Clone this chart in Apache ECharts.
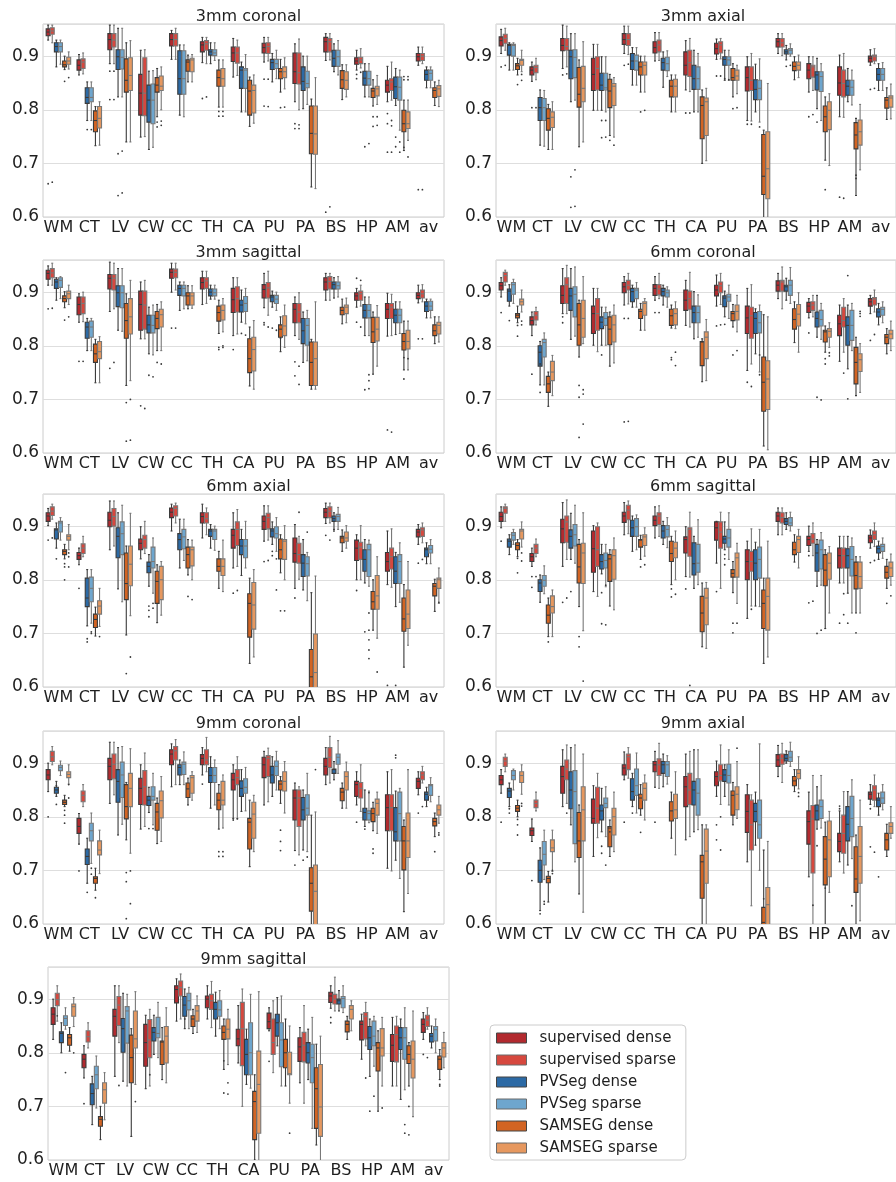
<!DOCTYPE html>
<html><head><meta charset="utf-8">
<script src="https://cdn.jsdelivr.net/npm/echarts@6/dist/echarts.min.js"></script>
<style>html,body{margin:0;padding:0;background:#fff}#c{width:896px;height:1182px}</style>
</head><body><div id="c"></div>
<script>
const categories = ['WM','CT','LV','CW','CC','TH','CA','PU','PA','BS','HP','AM','av'];
const methods = ['supervised dense','supervised sparse','PVSeg dense','PVSeg sparse','SAMSEG dense','SAMSEG sparse'];
const colors = ['#b22a2f','#d6483e','#2c6aa5','#6ea6ce','#d26423','#e6985f'];
const yTicks = [0.6,0.7,0.8,0.9];
const panelTitles = ['3mm coronal','3mm axial','3mm sagittal','6mm coronal','6mm axial','6mm sagittal','9mm coronal','9mm axial','9mm sagittal'];

// each category: 6 boxes [min, q1, median, q3, max] in method order
const cor3 = [
[[0.93,0.938,0.945,0.951,0.958],[0.925,0.941,0.947,0.953,0.958],[0.88,0.908,0.918,0.925,0.93],[0.885,0.908,0.918,0.925,0.93],[0.875,0.88,0.884,0.891,0.9],[0.876,0.885,0.891,0.898,0.908]],
[[0.865,0.874,0.883,0.893,0.903],[0.867,0.877,0.889,0.895,0.906],[0.78,0.812,0.823,0.841,0.852],[0.78,0.815,0.823,0.841,0.852],[0.733,0.759,0.78,0.798,0.806],[0.734,0.766,0.784,0.806,0.815]],
[[0.886,0.912,0.931,0.942,0.958],[0.886,0.917,0.93,0.942,0.958],[0.824,0.875,0.899,0.912,0.952],[0.824,0.876,0.898,0.912,0.952],[0.74,0.833,0.855,0.895,0.925],[0.74,0.836,0.864,0.897,0.929]],
[[0.749,0.79,0.831,0.866,0.911],[0.75,0.789,0.831,0.897,0.912],[0.726,0.777,0.818,0.846,0.872],[0.73,0.774,0.818,0.848,0.873],[0.787,0.833,0.846,0.86,0.877],[0.8,0.836,0.844,0.863,0.88]],
[[0.894,0.919,0.931,0.942,0.948],[0.894,0.919,0.931,0.942,0.952],[0.79,0.829,0.858,0.91,0.921],[0.787,0.829,0.858,0.91,0.921],[0.852,0.872,0.889,0.893,0.902],[0.852,0.871,0.893,0.896,0.903]],
[[0.888,0.908,0.921,0.927,0.935],[0.886,0.911,0.923,0.929,0.935],[0.886,0.902,0.908,0.912,0.925],[0.892,0.901,0.906,0.912,0.925],[0.805,0.844,0.86,0.874,0.893],[0.805,0.844,0.858,0.877,0.893]],
[[0.861,0.89,0.906,0.917,0.933],[0.864,0.887,0.906,0.917,0.93],[0.796,0.84,0.874,0.88,0.889],[0.796,0.84,0.874,0.877,0.903],[0.769,0.79,0.835,0.855,0.861],[0.775,0.794,0.836,0.846,0.865]],
[[0.889,0.906,0.916,0.924,0.935],[0.891,0.905,0.918,0.925,0.935],[0.852,0.875,0.888,0.894,0.905],[0.858,0.877,0.886,0.894,0.911],[0.833,0.858,0.871,0.877,0.894],[0.839,0.86,0.871,0.88,0.897]],
[[0.815,0.849,0.871,0.906,0.923],[0.8,0.848,0.869,0.906,0.932],[0.802,0.836,0.853,0.88,0.9],[0.81,0.841,0.849,0.872,0.9],[0.656,0.718,0.756,0.807,0.82],[0.653,0.717,0.755,0.807,0.86]],
[[0.892,0.908,0.927,0.935,0.942],[0.893,0.908,0.927,0.933,0.942],[0.871,0.881,0.896,0.911,0.923],[0.865,0.881,0.899,0.911,0.929],[0.819,0.84,0.856,0.873,0.884],[0.824,0.838,0.855,0.871,0.884]],
[[0.874,0.885,0.891,0.897,0.911],[0.878,0.886,0.893,0.898,0.914],[0.824,0.846,0.859,0.872,0.886],[0.824,0.846,0.858,0.872,0.886],[0.807,0.823,0.835,0.84,0.856],[0.81,0.826,0.839,0.844,0.864]],
[[0.815,0.833,0.846,0.855,0.881],[0.818,0.836,0.852,0.858,0.889],[0.808,0.821,0.843,0.861,0.877],[0.762,0.818,0.842,0.861,0.874],[0.724,0.759,0.774,0.799,0.818],[0.743,0.765,0.774,0.796,0.818]],
[[0.883,0.891,0.899,0.905,0.917],[0.886,0.892,0.9,0.905,0.917],[0.841,0.855,0.866,0.874,0.88],[0.841,0.855,0.868,0.874,0.88],[0.808,0.823,0.836,0.841,0.852],[0.806,0.825,0.839,0.845,0.855]]
];
const ax3 = [
[[0.905,0.919,0.929,0.936,0.95],[0.911,0.924,0.933,0.941,0.952],[0.874,0.902,0.92,0.922,0.925],[0.874,0.9,0.92,0.922,0.925],[0.865,0.875,0.882,0.886,0.896],[0.871,0.883,0.892,0.894,0.911]],
[[0.853,0.865,0.874,0.88,0.889],[0.856,0.869,0.879,0.883,0.896],[0.734,0.78,0.804,0.823,0.837],[0.732,0.78,0.804,0.821,0.836],[0.726,0.762,0.784,0.802,0.81],[0.726,0.767,0.786,0.796,0.815]],
[[0.877,0.91,0.92,0.933,0.958],[0.88,0.911,0.918,0.933,0.956],[0.815,0.858,0.899,0.911,0.942],[0.818,0.86,0.898,0.912,0.942],[0.731,0.805,0.829,0.879,0.893],[0.74,0.815,0.84,0.881,0.927]],
[[0.799,0.836,0.866,0.896,0.922],[0.799,0.837,0.877,0.899,0.922],[0.799,0.836,0.846,0.868,0.899],[0.796,0.837,0.841,0.868,0.899],[0.752,0.804,0.835,0.857,0.866],[0.749,0.808,0.844,0.849,0.86]],
[[0.905,0.922,0.931,0.942,0.956],[0.903,0.92,0.931,0.942,0.956],[0.846,0.875,0.891,0.905,0.916],[0.846,0.874,0.891,0.902,0.916],[0.833,0.865,0.88,0.889,0.9],[0.833,0.865,0.883,0.889,0.9]],
[[0.891,0.906,0.916,0.927,0.944],[0.892,0.908,0.921,0.93,0.944],[0.842,0.874,0.888,0.896,0.908],[0.862,0.873,0.886,0.898,0.91],[0.796,0.824,0.844,0.855,0.865],[0.796,0.824,0.844,0.857,0.865]],
[[0.837,0.865,0.883,0.908,0.929],[0.834,0.862,0.888,0.911,0.933],[0.796,0.838,0.858,0.883,0.911],[0.796,0.838,0.858,0.88,0.905],[0.7,0.746,0.808,0.824,0.837],[0.705,0.752,0.815,0.822,0.84]],
[[0.894,0.904,0.914,0.924,0.932],[0.895,0.906,0.921,0.927,0.933],[0.855,0.883,0.894,0.899,0.911],[0.855,0.883,0.893,0.899,0.911],[0.824,0.855,0.86,0.877,0.886],[0.83,0.855,0.863,0.874,0.883]],
[[0.78,0.835,0.86,0.88,0.899],[0.779,0.836,0.855,0.88,0.905],[0.796,0.819,0.838,0.856,0.885],[0.777,0.819,0.84,0.855,0.895],[0.57,0.642,0.676,0.754,0.762],[0.57,0.634,0.69,0.759,0.849]],
[[0.905,0.917,0.927,0.933,0.942],[0.901,0.917,0.925,0.933,0.942],[0.893,0.904,0.908,0.912,0.92],[0.9,0.904,0.911,0.914,0.923],[0.856,0.873,0.881,0.889,0.899],[0.86,0.874,0.883,0.889,0.902]],
[[0.833,0.858,0.874,0.886,0.899],[0.836,0.861,0.88,0.883,0.899],[0.802,0.837,0.865,0.871,0.896],[0.78,0.834,0.862,0.871,0.886],[0.706,0.759,0.787,0.807,0.824],[0.696,0.763,0.799,0.815,0.83]],
[[0.787,0.827,0.85,0.88,0.902],[0.786,0.824,0.849,0.874,0.905],[0.815,0.827,0.844,0.855,0.877],[0.809,0.827,0.842,0.855,0.874],[0.64,0.727,0.753,0.776,0.784],[0.688,0.734,0.759,0.781,0.81]],
[[0.883,0.889,0.896,0.9,0.912],[0.886,0.891,0.899,0.902,0.914],[0.836,0.855,0.866,0.877,0.886],[0.836,0.855,0.866,0.877,0.888],[0.782,0.803,0.818,0.823,0.841],[0.783,0.805,0.822,0.826,0.848]]
];
const sag3 = [
[[0.913,0.924,0.935,0.941,0.949],[0.913,0.927,0.936,0.944,0.954],[0.885,0.907,0.919,0.924,0.927],[0.888,0.909,0.922,0.927,0.929],[0.871,0.882,0.888,0.893,0.901],[0.877,0.888,0.897,0.902,0.913]],
[[0.844,0.858,0.877,0.891,0.897],[0.845,0.86,0.879,0.891,0.9],[0.791,0.814,0.835,0.844,0.851],[0.791,0.816,0.835,0.846,0.851],[0.731,0.769,0.785,0.803,0.812],[0.731,0.776,0.789,0.808,0.817]],
[[0.864,0.906,0.926,0.933,0.956],[0.869,0.904,0.926,0.933,0.954],[0.829,0.873,0.899,0.912,0.944],[0.827,0.871,0.899,0.912,0.944],[0.726,0.814,0.847,0.879,0.897],[0.735,0.822,0.854,0.888,0.922]],
[[0.813,0.829,0.877,0.902,0.919],[0.813,0.831,0.876,0.902,0.922],[0.785,0.824,0.839,0.857,0.872],[0.783,0.824,0.838,0.857,0.876],[0.791,0.832,0.851,0.864,0.877],[0.791,0.835,0.858,0.868,0.882]],
[[0.9,0.926,0.937,0.943,0.954],[0.904,0.927,0.937,0.943,0.954],[0.866,0.894,0.907,0.913,0.919],[0.869,0.893,0.907,0.913,0.919],[0.869,0.876,0.893,0.899,0.912],[0.87,0.876,0.893,0.899,0.912]],
[[0.877,0.906,0.918,0.927,0.939],[0.879,0.907,0.921,0.927,0.939],[0.887,0.893,0.9,0.906,0.913],[0.887,0.893,0.899,0.906,0.913],[0.823,0.846,0.862,0.874,0.885],[0.826,0.848,0.866,0.876,0.888]],
[[0.819,0.862,0.886,0.907,0.927],[0.822,0.863,0.888,0.91,0.927],[0.844,0.863,0.876,0.885,0.904],[0.841,0.864,0.879,0.892,0.907],[0.725,0.75,0.776,0.813,0.835],[0.719,0.753,0.793,0.816,0.847]],
[[0.871,0.889,0.905,0.914,0.935],[0.857,0.889,0.908,0.918,0.939],[0.872,0.882,0.891,0.894,0.902],[0.866,0.879,0.887,0.894,0.9],[0.789,0.816,0.831,0.839,0.854],[0.797,0.819,0.837,0.856,0.876]],
[[0.819,0.843,0.868,0.879,0.891],[0.812,0.843,0.863,0.879,0.899],[0.769,0.804,0.828,0.851,0.863],[0.772,0.801,0.838,0.851,0.866],[0.719,0.726,0.769,0.807,0.812],[0.719,0.726,0.776,0.807,0.882]],
[[0.885,0.904,0.919,0.927,0.935],[0.885,0.906,0.92,0.929,0.935],[0.889,0.906,0.914,0.919,0.927],[0.891,0.906,0.912,0.919,0.929],[0.841,0.858,0.866,0.872,0.887],[0.843,0.86,0.872,0.876,0.889]],
[[0.872,0.885,0.893,0.899,0.907],[0.874,0.885,0.897,0.902,0.913],[0.819,0.852,0.866,0.877,0.891],[0.819,0.852,0.866,0.877,0.891],[0.747,0.806,0.826,0.853,0.863],[0.762,0.809,0.831,0.853,0.875]],
[[0.818,0.851,0.868,0.879,0.898],[0.819,0.851,0.872,0.879,0.896],[0.821,0.843,0.857,0.868,0.882],[0.823,0.843,0.857,0.868,0.882],[0.755,0.792,0.808,0.823,0.846],[0.755,0.794,0.808,0.829,0.846]],
[[0.88,0.888,0.894,0.899,0.913],[0.882,0.889,0.897,0.904,0.914],[0.852,0.864,0.874,0.882,0.887],[0.852,0.866,0.874,0.883,0.887],[0.804,0.819,0.828,0.839,0.854],[0.807,0.822,0.838,0.844,0.854]]
];
const cor6 = [
[[0.891,0.904,0.912,0.918,0.927],[0.913,0.919,0.931,0.937,0.941],[0.874,0.883,0.902,0.906,0.914],[0.879,0.896,0.914,0.918,0.924],[0.843,0.852,0.857,0.86,0.874],[0.863,0.876,0.882,0.887,0.904]],
[[0.819,0.839,0.847,0.854,0.863],[0.839,0.848,0.857,0.864,0.872],[0.727,0.762,0.788,0.8,0.808],[0.727,0.779,0.806,0.812,0.824],[0.687,0.713,0.729,0.743,0.751],[0.707,0.735,0.751,0.771,0.782]],
[[0.86,0.879,0.894,0.912,0.944],[0.86,0.879,0.914,0.927,0.95],[0.812,0.866,0.893,0.907,0.944],[0.818,0.854,0.896,0.91,0.947],[0.779,0.801,0.839,0.879,0.885],[0.804,0.816,0.851,0.885,0.929]],
[[0.801,0.823,0.86,0.874,0.907],[0.789,0.829,0.86,0.888,0.907],[0.801,0.832,0.844,0.854,0.872],[0.801,0.838,0.851,0.862,0.872],[0.762,0.802,0.831,0.854,0.863],[0.768,0.807,0.839,0.857,0.876]],
[[0.876,0.899,0.91,0.918,0.929],[0.878,0.904,0.913,0.922,0.935],[0.872,0.882,0.901,0.907,0.913],[0.872,0.888,0.904,0.907,0.918],[0.829,0.851,0.864,0.868,0.879],[0.829,0.857,0.879,0.882,0.888]],
[[0.885,0.894,0.907,0.914,0.929],[0.888,0.895,0.906,0.914,0.935],[0.876,0.893,0.901,0.907,0.913],[0.872,0.891,0.899,0.904,0.91],[0.833,0.838,0.856,0.868,0.876],[0.832,0.839,0.86,0.869,0.882]],
[[0.838,0.866,0.885,0.904,0.922],[0.835,0.868,0.888,0.902,0.937],[0.813,0.843,0.862,0.874,0.901],[0.816,0.843,0.862,0.874,0.895],[0.733,0.763,0.807,0.808,0.813],[0.735,0.776,0.816,0.826,0.849]],
[[0.874,0.893,0.904,0.913,0.932],[0.877,0.899,0.912,0.919,0.935],[0.854,0.873,0.889,0.893,0.902],[0.851,0.883,0.891,0.896,0.913],[0.835,0.847,0.86,0.864,0.877],[0.826,0.848,0.864,0.876,0.894]],
[[0.754,0.823,0.852,0.874,0.907],[0.766,0.814,0.856,0.872,0.914],[0.785,0.823,0.851,0.862,0.869],[0.751,0.824,0.843,0.864,0.876],[0.613,0.678,0.732,0.779,0.858],[0.606,0.681,0.738,0.772,0.854]],
[[0.888,0.902,0.913,0.921,0.935],[0.869,0.902,0.919,0.922,0.947],[0.885,0.902,0.91,0.913,0.926],[0.879,0.894,0.913,0.922,0.946],[0.806,0.831,0.849,0.869,0.882],[0.788,0.837,0.859,0.877,0.899]],
[[0.852,0.862,0.874,0.881,0.888],[0.854,0.866,0.876,0.882,0.894],[0.816,0.835,0.851,0.863,0.894],[0.812,0.837,0.849,0.866,0.879],[0.788,0.807,0.826,0.829,0.837],[0.797,0.816,0.827,0.832,0.843]],
[[0.771,0.819,0.841,0.857,0.876],[0.788,0.835,0.847,0.872,0.888],[0.757,0.801,0.838,0.854,0.876],[0.791,0.81,0.838,0.866,0.879],[0.707,0.729,0.769,0.797,0.816],[0.713,0.752,0.774,0.785,0.804]],
[[0.86,0.874,0.882,0.888,0.894],[0.863,0.876,0.887,0.89,0.904],[0.839,0.854,0.863,0.869,0.879],[0.843,0.857,0.868,0.872,0.882],[0.785,0.804,0.816,0.821,0.832],[0.791,0.813,0.822,0.829,0.846]]
];
const ax6 = [
[[0.901,0.909,0.919,0.925,0.933],[0.913,0.92,0.928,0.936,0.941],[0.859,0.876,0.893,0.895,0.906],[0.874,0.889,0.906,0.909,0.916],[0.839,0.847,0.853,0.856,0.866],[0.856,0.874,0.881,0.884,0.903]],
[[0.828,0.838,0.845,0.851,0.859],[0.843,0.849,0.859,0.867,0.881],[0.714,0.75,0.766,0.803,0.819],[0.719,0.759,0.784,0.805,0.819],[0.695,0.711,0.726,0.736,0.749],[0.713,0.736,0.751,0.761,0.784]],
[[0.856,0.899,0.911,0.926,0.947],[0.863,0.9,0.918,0.933,0.947],[0.783,0.841,0.881,0.897,0.925],[0.759,0.847,0.886,0.908,0.939],[0.697,0.763,0.793,0.85,0.863],[0.733,0.789,0.829,0.863,0.924]],
[[0.839,0.856,0.868,0.876,0.899],[0.849,0.859,0.875,0.883,0.909],[0.788,0.813,0.825,0.833,0.847],[0.775,0.822,0.834,0.861,0.878],[0.72,0.756,0.797,0.816,0.828],[0.734,0.763,0.8,0.825,0.834]],
[[0.891,0.916,0.926,0.934,0.941],[0.906,0.919,0.933,0.938,0.943],[0.822,0.856,0.875,0.886,0.913],[0.836,0.858,0.88,0.894,0.913],[0.809,0.822,0.847,0.861,0.875],[0.8,0.826,0.856,0.861,0.874]],
[[0.878,0.906,0.918,0.925,0.941],[0.884,0.906,0.914,0.925,0.934],[0.859,0.881,0.891,0.894,0.903],[0.855,0.875,0.891,0.894,0.9],[0.784,0.816,0.825,0.839,0.853],[0.778,0.808,0.825,0.839,0.874]],
[[0.822,0.859,0.883,0.894,0.925],[0.825,0.864,0.894,0.908,0.931],[0.808,0.847,0.863,0.875,0.894],[0.822,0.841,0.863,0.875,0.909],[0.644,0.693,0.756,0.774,0.803],[0.656,0.708,0.753,0.795,0.819]],
[[0.872,0.894,0.909,0.919,0.938],[0.874,0.895,0.916,0.924,0.938],[0.866,0.88,0.891,0.895,0.908],[0.853,0.878,0.886,0.899,0.916],[0.813,0.839,0.856,0.876,0.884],[0.8,0.838,0.872,0.875,0.901]],
[[0.784,0.833,0.849,0.878,0.903],[0.801,0.831,0.847,0.868,0.881],[0.781,0.806,0.831,0.847,0.875],[0.761,0.807,0.83,0.843,0.851],[0.57,0.581,0.619,0.67,0.776],[0.57,0.581,0.627,0.699,0.807]],
[[0.905,0.916,0.926,0.933,0.943],[0.906,0.916,0.928,0.936,0.943],[0.894,0.909,0.914,0.919,0.925],[0.894,0.909,0.918,0.922,0.935],[0.853,0.869,0.878,0.881,0.893],[0.859,0.872,0.878,0.889,0.901]],
[[0.8,0.836,0.859,0.874,0.884],[0.8,0.838,0.861,0.87,0.901],[0.794,0.816,0.838,0.856,0.875],[0.788,0.806,0.856,0.866,0.874],[0.706,0.745,0.759,0.778,0.8],[0.691,0.745,0.77,0.808,0.843]],
[[0.791,0.816,0.834,0.851,0.891],[0.786,0.82,0.843,0.859,0.895],[0.75,0.793,0.816,0.843,0.851],[0.758,0.793,0.834,0.847,0.869],[0.637,0.704,0.727,0.766,0.791],[0.678,0.709,0.736,0.781,0.834]],
[[0.866,0.88,0.889,0.894,0.903],[0.869,0.881,0.893,0.897,0.906],[0.83,0.843,0.856,0.859,0.869],[0.83,0.85,0.857,0.864,0.875],[0.741,0.77,0.788,0.793,0.801],[0.756,0.784,0.8,0.803,0.822]]
];
const sag6 = [
[[0.897,0.909,0.918,0.926,0.936],[0.909,0.924,0.933,0.936,0.941],[0.847,0.861,0.872,0.876,0.884],[0.866,0.874,0.883,0.888,0.894],[0.843,0.856,0.864,0.869,0.875],[0.861,0.876,0.891,0.894,0.908]],
[[0.825,0.834,0.843,0.849,0.859],[0.843,0.849,0.859,0.866,0.876],[0.758,0.778,0.794,0.8,0.809],[0.774,0.788,0.799,0.808,0.826],[0.694,0.719,0.734,0.753,0.766],[0.694,0.738,0.75,0.77,0.781]],
[[0.825,0.869,0.895,0.913,0.944],[0.838,0.87,0.908,0.919,0.949],[0.838,0.859,0.881,0.893,0.924],[0.831,0.863,0.884,0.903,0.939],[0.75,0.794,0.824,0.866,0.875],[0.705,0.793,0.85,0.868,0.925]],
[[0.778,0.814,0.858,0.891,0.901],[0.769,0.825,0.856,0.899,0.906],[0.811,0.82,0.834,0.847,0.866],[0.787,0.822,0.836,0.85,0.866],[0.751,0.797,0.839,0.847,0.856],[0.744,0.801,0.845,0.856,0.878]],
[[0.884,0.907,0.919,0.926,0.944],[0.886,0.912,0.93,0.939,0.947],[0.853,0.881,0.897,0.911,0.919],[0.856,0.881,0.899,0.914,0.921],[0.838,0.861,0.874,0.875,0.883],[0.844,0.864,0.88,0.884,0.897]],
[[0.878,0.901,0.911,0.919,0.936],[0.881,0.903,0.919,0.925,0.938],[0.866,0.878,0.891,0.901,0.909],[0.86,0.88,0.894,0.901,0.916],[0.791,0.834,0.849,0.872,0.881],[0.8,0.841,0.859,0.87,0.891]],
[[0.806,0.85,0.875,0.88,0.899],[0.805,0.844,0.894,0.897,0.926],[0.784,0.809,0.83,0.869,0.881],[0.791,0.814,0.831,0.866,0.912],[0.675,0.703,0.738,0.769,0.794],[0.672,0.716,0.766,0.784,0.795]],
[[0.831,0.874,0.897,0.908,0.909],[0.784,0.859,0.889,0.908,0.926],[0.856,0.868,0.876,0.881,0.908],[0.838,0.861,0.878,0.894,0.925],[0.776,0.805,0.812,0.819,0.834],[0.756,0.805,0.841,0.85,0.868]],
[[0.728,0.8,0.834,0.856,0.872],[0.751,0.816,0.834,0.853,0.895],[0.751,0.8,0.831,0.856,0.87],[0.75,0.803,0.838,0.861,0.894],[0.644,0.709,0.756,0.781,0.803],[0.656,0.706,0.769,0.803,0.872]],
[[0.884,0.909,0.919,0.926,0.934],[0.884,0.906,0.916,0.925,0.934],[0.894,0.903,0.909,0.914,0.925],[0.891,0.901,0.906,0.916,0.926],[0.833,0.847,0.856,0.87,0.884],[0.822,0.851,0.875,0.881,0.894]],
[[0.853,0.864,0.875,0.881,0.9],[0.845,0.868,0.876,0.886,0.906],[0.788,0.816,0.85,0.866,0.875],[0.79,0.82,0.856,0.874,0.888],[0.709,0.789,0.818,0.847,0.856],[0.738,0.801,0.831,0.85,0.862]],
[[0.794,0.822,0.845,0.859,0.881],[0.794,0.822,0.845,0.859,0.881],[0.775,0.822,0.845,0.858,0.881],[0.738,0.807,0.838,0.862,0.878],[0.738,0.783,0.808,0.833,0.843],[0.738,0.784,0.806,0.833,0.843]],
[[0.859,0.869,0.878,0.883,0.893],[0.862,0.875,0.884,0.891,0.906],[0.838,0.85,0.858,0.863,0.872],[0.84,0.853,0.862,0.866,0.878],[0.784,0.803,0.814,0.825,0.838],[0.79,0.806,0.822,0.833,0.848]]
];
const cor9 = [
[[0.847,0.869,0.878,0.888,0.9],[0.897,0.903,0.912,0.922,0.931],[0.838,0.844,0.85,0.855,0.866],[0.877,0.886,0.892,0.896,0.904],[0.819,0.823,0.827,0.831,0.84],[0.861,0.873,0.879,0.884,0.897]],
[[0.749,0.769,0.782,0.797,0.806],[0.819,0.828,0.84,0.848,0.86],[0.676,0.711,0.726,0.74,0.76],[0.713,0.755,0.774,0.788,0.807],[0.663,0.676,0.685,0.688,0.704],[0.694,0.729,0.738,0.755,0.775]],
[[0.825,0.869,0.894,0.909,0.939],[0.841,0.871,0.898,0.917,0.939],[0.766,0.827,0.866,0.888,0.929],[0.786,0.836,0.878,0.902,0.931],[0.757,0.796,0.819,0.86,0.864],[0.732,0.819,0.853,0.881,0.927]],
[[0.777,0.823,0.853,0.872,0.897],[0.782,0.822,0.856,0.886,0.919],[0.808,0.821,0.831,0.838,0.855],[0.785,0.831,0.838,0.856,0.881],[0.75,0.775,0.809,0.825,0.835],[0.754,0.798,0.83,0.848,0.875]],
[[0.856,0.897,0.917,0.925,0.936],[0.86,0.906,0.923,0.931,0.944],[0.86,0.878,0.892,0.897,0.906],[0.86,0.879,0.898,0.902,0.921],[0.822,0.836,0.852,0.863,0.872],[0.831,0.844,0.873,0.877,0.884]],
[[0.878,0.897,0.909,0.916,0.929],[0.884,0.897,0.906,0.925,0.948],[0.816,0.864,0.877,0.892,0.912],[0.822,0.864,0.877,0.892,0.906],[0.777,0.813,0.831,0.844,0.86],[0.779,0.822,0.831,0.866,0.878]],
[[0.797,0.85,0.869,0.881,0.897],[0.797,0.86,0.873,0.888,0.912],[0.81,0.838,0.853,0.867,0.888],[0.811,0.844,0.855,0.871,0.892],[0.707,0.74,0.79,0.797,0.831],[0.735,0.76,0.805,0.827,0.84]],
[[0.822,0.873,0.897,0.911,0.922],[0.828,0.875,0.909,0.914,0.928],[0.838,0.863,0.878,0.894,0.912],[0.85,0.877,0.894,0.904,0.922],[0.825,0.85,0.861,0.867,0.875],[0.807,0.848,0.866,0.884,0.903]],
[[0.737,0.794,0.835,0.85,0.863],[0.729,0.782,0.835,0.85,0.856],[0.738,0.794,0.813,0.836,0.85],[0.735,0.803,0.816,0.841,0.881],[0.57,0.624,0.676,0.705,0.803],[0.57,0.57,0.661,0.71,0.809]],
[[0.86,0.878,0.894,0.909,0.929],[0.863,0.892,0.911,0.929,0.95],[0.869,0.881,0.888,0.889,0.903],[0.881,0.898,0.911,0.917,0.942],[0.816,0.83,0.846,0.853,0.863],[0.816,0.85,0.875,0.884,0.902]],
[[0.822,0.838,0.86,0.866,0.884],[0.81,0.835,0.853,0.864,0.897],[0.782,0.794,0.808,0.816,0.85],[0.789,0.794,0.806,0.811,0.848],[0.774,0.791,0.806,0.816,0.827],[0.769,0.803,0.825,0.833,0.846]],
[[0.704,0.774,0.817,0.841,0.884],[0.699,0.774,0.817,0.841,0.888],[0.719,0.755,0.772,0.817,0.848],[0.685,0.755,0.806,0.846,0.853],[0.623,0.701,0.755,0.782,0.794],[0.657,0.724,0.755,0.807,0.888]],
[[0.841,0.853,0.866,0.872,0.884],[0.863,0.869,0.878,0.884,0.894],[0.819,0.831,0.842,0.846,0.855],[0.828,0.84,0.858,0.86,0.873],[0.763,0.783,0.791,0.797,0.807],[0.788,0.803,0.813,0.822,0.838]]
];
const ax9 = [
[[0.844,0.86,0.869,0.877,0.888],[0.884,0.894,0.904,0.911,0.917],[0.819,0.836,0.848,0.853,0.863],[0.85,0.869,0.877,0.886,0.889],[0.8,0.81,0.816,0.821,0.831],[0.842,0.864,0.877,0.884,0.897]],
[[0.754,0.765,0.774,0.779,0.796],[0.811,0.817,0.825,0.831,0.846],[0.625,0.678,0.7,0.719,0.742],[0.683,0.71,0.73,0.754,0.775],[0.641,0.677,0.685,0.689,0.698],[0.698,0.735,0.742,0.757,0.775]],
[[0.819,0.844,0.875,0.894,0.925],[0.825,0.869,0.889,0.906,0.934],[0.785,0.815,0.85,0.884,0.929],[0.716,0.75,0.847,0.886,0.934],[0.656,0.724,0.755,0.808,0.822],[0.622,0.755,0.813,0.856,0.917]],
[[0.726,0.788,0.797,0.833,0.858],[0.761,0.788,0.816,0.855,0.881],[0.772,0.794,0.811,0.822,0.853],[0.763,0.817,0.825,0.835,0.856],[0.726,0.744,0.779,0.782,0.794],[0.735,0.766,0.8,0.816,0.846]],
[[0.869,0.878,0.891,0.897,0.921],[0.872,0.888,0.912,0.917,0.929],[0.819,0.831,0.847,0.871,0.881],[0.807,0.84,0.858,0.889,0.919],[0.803,0.815,0.835,0.842,0.86],[0.794,0.831,0.853,0.863,0.878]],
[[0.855,0.884,0.897,0.903,0.922],[0.853,0.877,0.897,0.908,0.937],[0.856,0.881,0.897,0.903,0.917],[0.861,0.875,0.897,0.903,0.914],[0.76,0.792,0.811,0.828,0.846],[0.729,0.797,0.813,0.842,0.884]],
[[0.757,0.819,0.856,0.875,0.917],[0.763,0.823,0.85,0.881,0.922],[0.772,0.822,0.85,0.866,0.925],[0.776,0.803,0.844,0.871,0.925],[0.57,0.648,0.716,0.728,0.785],[0.57,0.676,0.736,0.777,0.785]],
[[0.838,0.858,0.875,0.884,0.904],[0.823,0.867,0.877,0.897,0.934],[0.838,0.866,0.878,0.888,0.897],[0.822,0.863,0.877,0.898,0.925],[0.785,0.803,0.84,0.848,0.864],[0.797,0.813,0.842,0.856,0.903]],
[[0.716,0.771,0.81,0.841,0.86],[0.634,0.738,0.785,0.831,0.841],[0.747,0.791,0.81,0.825,0.846],[0.7,0.76,0.785,0.831,0.936],[0.57,0.57,0.603,0.631,0.738],[0.57,0.57,0.636,0.668,0.754]],
[[0.875,0.894,0.906,0.916,0.933],[0.864,0.898,0.909,0.917,0.937],[0.9,0.904,0.909,0.916,0.923],[0.894,0.903,0.911,0.922,0.939],[0.847,0.858,0.867,0.875,0.888],[0.852,0.871,0.881,0.888,0.912]],
[[0.688,0.749,0.791,0.811,0.846],[0.57,0.695,0.796,0.821,0.877],[0.777,0.794,0.811,0.822,0.856],[0.779,0.797,0.819,0.831,0.877],[0.57,0.673,0.721,0.763,0.79],[0.659,0.688,0.757,0.792,0.81]],
[[0.716,0.735,0.754,0.769,0.811],[0.695,0.732,0.769,0.803,0.847],[0.71,0.755,0.786,0.819,0.847],[0.722,0.763,0.797,0.838,0.869],[0.57,0.659,0.684,0.744,0.766],[0.606,0.676,0.726,0.782,0.831]],
[[0.823,0.833,0.842,0.846,0.86],[0.819,0.831,0.85,0.858,0.878],[0.803,0.819,0.831,0.835,0.844],[0.813,0.825,0.835,0.846,0.86],[0.726,0.738,0.757,0.769,0.786],[0.76,0.769,0.782,0.789,0.819]]
];
const sag9 = [
[[0.825,0.853,0.872,0.884,0.9],[0.859,0.888,0.899,0.911,0.925],[0.8,0.819,0.836,0.839,0.856],[0.844,0.851,0.864,0.869,0.884],[0.803,0.814,0.828,0.834,0.847],[0.849,0.868,0.886,0.891,0.903]],
[[0.753,0.772,0.788,0.797,0.813],[0.809,0.82,0.83,0.841,0.856],[0.666,0.703,0.724,0.742,0.756],[0.697,0.733,0.759,0.775,0.794],[0.638,0.663,0.676,0.681,0.7],[0.675,0.706,0.731,0.744,0.763]],
[[0.756,0.831,0.868,0.881,0.925],[0.819,0.851,0.889,0.905,0.925],[0.747,0.801,0.845,0.864,0.911],[0.738,0.818,0.878,0.886,0.909],[0.644,0.744,0.791,0.833,0.845],[0.741,0.809,0.826,0.878,0.914]],
[[0.733,0.775,0.819,0.853,0.87],[0.738,0.791,0.824,0.862,0.881],[0.797,0.822,0.838,0.847,0.87],[0.791,0.828,0.836,0.866,0.894],[0.75,0.778,0.82,0.822,0.847],[0.744,0.781,0.831,0.849,0.884]],
[[0.859,0.893,0.918,0.925,0.938],[0.863,0.906,0.922,0.934,0.947],[0.845,0.868,0.889,0.905,0.919],[0.845,0.88,0.897,0.911,0.922],[0.836,0.849,0.863,0.869,0.881],[0.838,0.859,0.878,0.888,0.906]],
[[0.863,0.884,0.9,0.906,0.925],[0.847,0.881,0.897,0.909,0.933],[0.831,0.863,0.881,0.894,0.913],[0.845,0.868,0.88,0.897,0.916],[0.769,0.825,0.838,0.85,0.863],[0.778,0.826,0.844,0.863,0.881]],
[[0.781,0.813,0.826,0.844,0.888],[0.7,0.776,0.845,0.894,0.919],[0.741,0.759,0.797,0.825,0.844],[0.734,0.759,0.8,0.856,0.909],[0.575,0.638,0.709,0.728,0.759],[0.575,0.65,0.741,0.803,0.914]],
[[0.841,0.845,0.858,0.874,0.884],[0.763,0.797,0.819,0.863,0.897],[0.813,0.831,0.856,0.872,0.903],[0.738,0.774,0.824,0.856,0.906],[0.738,0.772,0.8,0.825,0.863],[0.706,0.759,0.761,0.801,0.85]],
[[0.744,0.784,0.811,0.828,0.847],[0.706,0.783,0.814,0.838,0.888],[0.75,0.781,0.8,0.819,0.844],[0.659,0.744,0.791,0.816,0.866],[0.628,0.659,0.733,0.772,0.816],[0.575,0.644,0.699,0.778,0.831]],
[[0.883,0.894,0.906,0.913,0.925],[0.878,0.891,0.9,0.909,0.941],[0.878,0.891,0.897,0.9,0.916],[0.875,0.884,0.901,0.905,0.925],[0.825,0.839,0.853,0.859,0.868],[0.841,0.863,0.881,0.888,0.897]],
[[0.788,0.824,0.853,0.859,0.872],[0.813,0.826,0.868,0.875,0.894],[0.756,0.806,0.828,0.849,0.863],[0.775,0.813,0.831,0.859,0.868],[0.691,0.766,0.809,0.819,0.841],[0.738,0.794,0.809,0.845,0.866]],
[[0.738,0.784,0.814,0.834,0.866],[0.738,0.783,0.834,0.85,0.868],[0.713,0.806,0.828,0.847,0.863],[0.731,0.788,0.828,0.847,0.884],[0.738,0.78,0.797,0.813,0.819],[0.681,0.753,0.788,0.822,0.878]],
[[0.825,0.838,0.853,0.863,0.875],[0.844,0.849,0.861,0.87,0.884],[0.809,0.82,0.831,0.836,0.85],[0.8,0.822,0.843,0.849,0.863],[0.75,0.769,0.788,0.794,0.806],[0.772,0.792,0.809,0.819,0.838]]
];

// outliers: [categoryIndex, methodIndex, value]
const cor3Out = [[0,0,0.662],[0,1,0.665],[0,4,0.853],[0,5,0.86],[1,2,0.763],[1,3,0.763],[2,0,0.872],[2,0,0.819],[2,1,0.872],[2,1,0.819],[2,2,0.718],[2,2,0.64],[2,3,0.723],[2,3,0.645],[3,4,0.777],[3,4,0.768],[3,5,0.779],[3,5,0.771],[5,0,0.821],[5,1,0.824],[5,4,0.797],[5,4,0.788],[5,5,0.797],[5,5,0.788],[7,0,0.857],[7,0,0.807],[7,1,0.857],[7,1,0.806],[7,4,0.804],[7,5,0.805],[8,0,0.774],[8,0,0.765],[8,1,0.772],[8,1,0.765],[9,0,0.609],[9,1,0.619],[10,0,0.866],[10,0,0.858],[10,1,0.87],[10,2,0.731],[10,3,0.737],[10,4,0.787],[10,4,0.769],[10,5,0.787],[10,5,0.771],[11,0,0.793],[11,0,0.774],[11,0,0.721],[11,1,0.78],[11,1,0.77],[11,1,0.721],[11,2,0.749],[11,2,0.731],[11,3,0.74],[11,3,0.721],[11,4,0.862],[11,4,0.856],[11,4,0.73],[11,5,0.862],[11,5,0.856],[11,5,0.712],[12,0,0.651],[12,1,0.651]];
const ax3Out = [[0,0,0.88],[0,1,0.883],[0,4,0.847],[0,5,0.855],[0,5,0.866],[1,0,0.804],[1,1,0.804],[2,0,0.865],[2,1,0.867],[2,2,0.675],[2,2,0.618],[2,3,0.688],[2,3,0.62],[3,2,0.78],[3,3,0.78],[3,2,0.748],[3,3,0.749],[3,4,0.743],[3,5,0.734],[4,0,0.883],[4,1,0.885],[4,4,0.796],[4,5,0.799],[6,0,0.794],[6,1,0.794],[7,0,0.863],[7,1,0.863],[7,2,0.858],[7,3,0.856],[7,4,0.802],[7,5,0.804],[8,0,0.773],[8,1,0.773],[8,3,0.768],[9,2,0.881],[9,3,0.883],[10,0,0.787],[10,1,0.791],[10,2,0.777],[10,4,0.651],[11,0,0.637],[11,1,0.635],[11,4,0.678],[11,4,0.672],[12,0,0.838],[12,1,0.84]];
const sag3Out = [[0,0,0.869],[0,1,0.87],[0,4,0.848],[0,5,0.854],[1,0,0.771],[1,1,0.771],[2,0,0.758],[2,1,0.769],[2,4,0.694],[2,4,0.622],[2,5,0.7],[2,5,0.624],[3,0,0.688],[3,1,0.683],[3,2,0.745],[3,3,0.742],[3,4,0.769],[3,5,0.766],[4,0,0.833],[4,1,0.833],[5,4,0.797],[5,4,0.793],[5,5,0.8],[5,5,0.797],[6,0,0.793],[6,2,0.823],[6,3,0.82],[7,0,0.843],[7,0,0.839],[7,1,0.835],[7,2,0.833],[7,3,0.829],[7,4,0.814],[8,0,0.77],[8,0,0.744],[8,1,0.762],[8,1,0.728],[10,0,0.926],[10,0,0.844],[10,1,0.922],[10,1,0.835],[10,2,0.718],[10,3,0.72],[10,3,0.735],[10,3,0.746],[11,0,0.643],[11,1,0.639],[11,4,0.778],[11,4,0.738],[11,5,0.776],[12,0,0.813],[12,1,0.813]];
const cor6Out = [[0,0,0.862],[0,2,0.847],[0,4,0.838],[0,4,0.818],[0,5,0.839],[0,5,0.846],[1,0,0.747],[1,2,0.713],[1,2,0.766],[2,0,0.854],[2,0,0.843],[2,4,0.726],[2,4,0.704],[2,4,0.629],[2,5,0.718],[2,5,0.71],[2,5,0.654],[3,2,0.783],[4,0,0.658],[4,1,0.659],[4,0,0.851],[4,1,0.851],[5,0,0.862],[5,1,0.862],[5,4,0.778],[5,4,0.774],[5,5,0.788],[5,5,0.763],[7,0,0.837],[7,1,0.839],[7,2,0.84],[7,4,0.783],[7,5,0.791],[8,0,0.732],[8,1,0.724],[8,3,0.746],[8,3,0.783],[10,0,0.824],[10,2,0.704],[10,3,0.699],[10,4,0.776],[10,4,0.766],[10,5,0.787],[10,5,0.781],[11,1,0.749],[11,2,0.931],[11,2,0.701],[11,5,0.86],[11,5,0.864],[11,5,0.855],[12,0,0.81],[12,1,0.821]];
const ax6Out = [[0,0,0.874],[0,1,0.878],[0,2,0.839],[0,4,0.83],[0,4,0.824],[0,4,0.8],[0,5,0.85],[0,5,0.843],[0,5,0.824],[1,0,0.784],[1,2,0.684],[1,2,0.69],[1,3,0.703],[1,3,0.7],[1,5,0.694],[2,4,0.625],[2,5,0.656],[3,2,0.751],[3,2,0.743],[3,2,0.731],[3,3,0.756],[3,3,0.747],[4,4,0.769],[4,5,0.763],[6,0,0.775],[6,1,0.78],[7,0,0.834],[7,1,0.836],[7,2,0.853],[7,2,0.845],[7,3,0.839],[7,3,0.781],[7,4,0.742],[7,5,0.742],[8,0,0.766],[8,1,0.926],[8,3,0.889],[9,0,0.883],[9,1,0.874],[9,2,0.891],[10,0,0.78],[10,2,0.703],[10,3,0.738],[10,3,0.706],[10,3,0.688],[10,3,0.669],[10,3,0.653],[10,5,0.628],[11,0,0.603],[11,2,0.603],[12,0,0.831],[12,1,0.838],[12,5,0.758]];
const sag6Out = [[0,0,0.872],[0,4,0.84],[0,4,0.813],[0,5,0.85],[0,5,0.835],[1,0,0.806],[1,0,0.786],[1,1,0.806],[1,4,0.684],[2,0,0.758],[2,1,0.766],[2,2,0.778],[2,4,0.694],[2,4,0.675],[2,5,0.611],[3,2,0.776],[3,3,0.79],[3,2,0.718],[3,3,0.716],[4,4,0.824],[4,5,0.828],[5,4,0.783],[5,4,0.768],[5,5,0.773],[6,0,0.783],[6,1,0.603],[7,0,0.778],[7,2,0.847],[7,2,0.839],[7,2,0.828],[7,4,0.719],[7,4,0.701],[7,5,0.719],[8,1,0.745],[10,0,0.845],[10,0,0.757],[10,1,0.76],[10,2,0.7],[10,3,0.706],[11,0,0.719],[11,1,0.774],[11,1,0.735],[11,2,0.719],[11,4,0.701],[12,0,0.832],[12,1,0.836],[12,4,0.756],[12,5,0.77]];
const cor9Out = [[0,0,0.8],[0,2,0.858],[0,2,0.823],[0,4,0.812],[0,4,0.803],[0,4,0.788],[0,5,0.86],[0,5,0.835],[1,0,0.699],[1,2,0.659],[1,3,0.704],[1,3,0.693],[1,4,0.649],[2,4,0.696],[2,4,0.679],[2,4,0.61],[2,5,0.699],[2,5,0.638],[3,2,0.778],[3,3,0.778],[5,0,0.861],[5,4,0.735],[5,4,0.726],[5,5,0.735],[5,5,0.726],[6,0,0.794],[6,1,0.796],[7,4,0.775],[7,4,0.754],[7,4,0.737],[8,0,0.71],[8,2,0.719],[8,3,0.725],[8,5,0.888],[10,0,0.79],[10,2,0.777],[10,3,0.845],[10,4,0.74],[10,4,0.732],[11,2,0.91],[11,2,0.915],[12,0,0.807],[12,1,0.819],[12,4,0.735],[12,5,0.766],[12,5,0.77]];
const ax9Out = [[0,0,0.79],[0,2,0.815],[0,2,0.807],[0,4,0.795],[0,4,0.785],[0,4,0.766],[0,5,0.825],[0,5,0.82],[1,0,0.681],[1,2,0.619],[1,3,0.637],[1,3,0.642],[1,5,0.7],[1,5,0.694],[2,1,0.807],[3,2,0.732],[3,2,0.745],[3,3,0.71],[3,4,0.772],[4,0,0.79],[4,2,0.807],[4,4,0.771],[5,0,0.79],[7,0,0.785],[7,0,0.757],[7,1,0.8],[7,1,0.738],[7,5,0.928],[8,4,0.647],[9,5,0.845],[9,5,0.838],[10,1,0.635],[10,2,0.746],[10,4,0.667],[11,0,0.82],[11,0,0.815],[11,3,0.634],[12,0,0.744],[12,1,0.734],[12,2,0.688],[12,0,0.815]];
const sag9Out = [[0,1,0.869],[0,3,0.763],[0,5,0.8],[1,0,0.705],[2,1,0.739],[2,5,0.709],[3,1,0.759],[4,2,0.863],[5,4,0.785],[5,4,0.725],[5,5,0.744],[5,5,0.723],[6,4,0.6],[7,0,0.784],[7,5,0.65],[9,0,0.866],[9,0,0.856],[10,1,0.753],[10,2,0.691],[10,3,0.719],[10,5,0.697],[11,3,0.666],[11,3,0.65],[11,4,0.7],[11,4,0.647],[12,0,0.797],[12,1,0.791],[12,4,0.738],[12,4,0.741]];

const panelData = [cor3, ax3, sag3, cor6, ax6, sag6, cor9, ax9, sag9];
const panelOut = [cor3Out, ax3Out, sag3Out, cor6Out, ax6Out, sag6Out, cor9Out, ax9Out, sag9Out];

// layout
const rowTop = [24, 260, 494, 731, 967];
const gridH = 193;
function layoutOf(i){
  const row = Math.floor(i/2), col = i%2;
  if (i === 8) return {left:48, top:rowTop[row], width:401};
  return col === 0 ? {left:43, top:rowTop[row], width:401} : {left:496, top:rowTop[row], width:404};
}

const edgeDense = '#3a3a3a', edgeSparse = '#787878';
function makeBox(h){
  return function(params, api){
    const cat = api.value(0);
    const bw = api.size([1,0])[0];
    const slot = bw*0.8/6;
    const base = api.coord([cat, 0.6])[0];
    const cx = base - bw*0.4 + slot*(h+0.5);
    const y = [1,2,3,4,5].map(k => api.coord([cat, api.value(k)])[1]);
    const w = slot*0.96;
    const edge = h%2===0 ? edgeDense : edgeSparse;
    const ls = {stroke:edge, lineWidth:1.1};
    const cap = w*0.5;
    return {type:'group', children:[
      {type:'line', shape:{x1:cx,y1:y[4],x2:cx,y2:y[3]}, style:ls},
      {type:'line', shape:{x1:cx,y1:y[1],x2:cx,y2:y[0]}, style:ls},
      {type:'line', shape:{x1:cx-cap/2,y1:y[4],x2:cx+cap/2,y2:y[4]}, style:ls},
      {type:'line', shape:{x1:cx-cap/2,y1:y[0],x2:cx+cap/2,y2:y[0]}, style:ls},
      {type:'rect', shape:{x:cx-w/2,y:y[3],width:w,height:y[1]-y[3]}, style:{fill:colors[h], stroke:edge, lineWidth:1.1}},
      {type:'line', shape:{x1:cx-w/2,y1:y[2],x2:cx+w/2,y2:y[2]}, style:ls}
    ]};
  };
}
function renderOut(params, api){
  const cat = api.value(0), h = api.value(1);
  const bw = api.size([1,0])[0];
  const slot = bw*0.8/6;
  const p = api.coord([cat, api.value(2)]);
  const cx = p[0] - bw*0.4 + slot*(h+0.5);
  return {type:'circle', shape:{cx:cx, cy:p[1], r:0.9}, style:{fill:'#3a3a3a'}};
}

const grids=[], xAxes=[], yAxes=[], titles=[], series=[];
panelData.forEach((data, i) => {
  const L = layoutOf(i);
  grids.push({left:L.left, top:L.top, width:L.width, height:gridH, show:true, borderColor:'#cccccc', borderWidth:1, backgroundColor:'#ffffff'});
  xAxes.push({type:'category', gridIndex:i, data:categories, axisLine:{show:false}, axisTick:{show:false}, splitLine:{show:false},
    axisLabel:{color:'#1f1f1f', fontSize:16, margin:3, interval:0}});
  yAxes.push({type:'value', gridIndex:i, min:0.6, max:0.96, interval:0.1, axisLine:{show:false}, axisTick:{show:false},
    splitLine:{show:true, lineStyle:{color:'#dedede', width:1}},
    axisLabel:{color:'#1f1f1f', fontSize:17, margin:4, showMaxLabel:false, formatter: v => yTicks.some(t => Math.abs(t-v)<1e-6) ? v.toFixed(1) : ''}});
  titles.push({text:panelTitles[i], left:L.left + L.width/2, top:L.top - 20, textAlign:'center',
    textStyle:{fontSize:16, fontWeight:'normal', color:'#1f1f1f', fontFamily:'DejaVu Sans'}});
  methods.forEach((m, h) => {
    series.push({type:'custom', name:m, xAxisIndex:i, yAxisIndex:i, clip:true, silent:true,
      renderItem: makeBox(h), encode:{x:0, y:[1,2,3,4,5]},
      itemStyle:{color:colors[h]},
      data: data.map((c, ci) => [ci].concat(c[h]))});
  });
  series.push({type:'custom', name:'outliers', xAxisIndex:i, yAxisIndex:i, clip:true, silent:true,
    renderItem: renderOut, encode:{x:0, y:2}, data: panelOut[i]});
});

const chart = echarts.init(document.getElementById('c'), null, {renderer:'canvas'});
chart.setOption({
  animation:false,
  backgroundColor:'#ffffff',
  textStyle:{fontFamily:'DejaVu Sans'},
  title: titles,
  grid: grids,
  xAxis: xAxes,
  yAxis: yAxes,
  legend: {
    orient:'vertical', left:490, top:1025, selectedMode:false,
    data: methods.map((m, h) => ({name:m, icon:'rect', itemStyle:{color:colors[h], borderColor: h%2===0 ? '#454545' : '#6a6a6a', borderWidth:1}})),
    itemWidth:30, itemHeight:10, itemGap:4,
    textStyle:{fontSize:15, color:'#1f1f1f', lineHeight:18, padding:[0,0,0,8]},
    borderColor:'#cccccc', borderWidth:1, borderRadius:4, backgroundColor:'#ffffff',
    padding:[4,10,3,6]
  },
  series: series
});
</script>
</body></html>
